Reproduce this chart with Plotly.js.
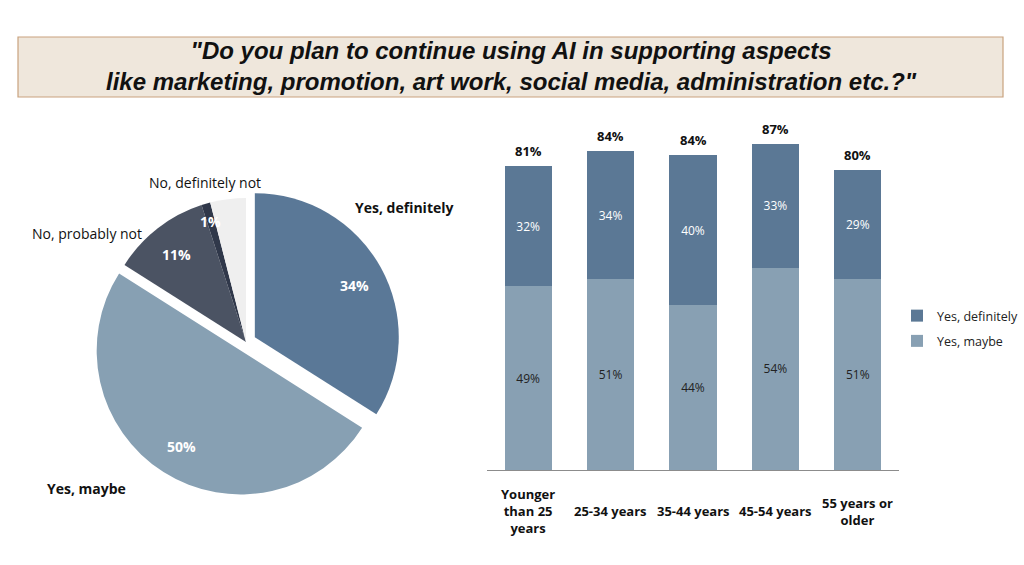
<!DOCTYPE html>
<html><head><meta charset="utf-8">
<script src="https://cdn.plot.ly/plotly-3.0.1.min.js"></script>
<style>html,body{margin:0;padding:0;background:#fff}</style>
</head><body><div id="chart" style="width:1024px;height:565px"></div>
<script>
// ---- data ----
const titleLines = ['"Do you plan to continue using AI in supporting aspects', 'like marketing, promotion, art work, social media, administration etc.?"'];
const pieLabels = ['Yes, definitely', 'Yes, maybe', 'No, probably not', 'No, definitely not', 'Other'];
const pieValues = [34, 50, 11, 1, 4];
const pieShown = ['34%', '50%', '11%', '1%', ''];
const ageGroups = ['Younger<br>than 25<br>years', '25-34 years', '35-44 years', '45-54 years', '55 years or<br>older'];
const yesMaybe = [49, 51, 44, 54, 51];
const yesDefinitely = [32, 34, 40, 33, 29];
const totals = [81, 84, 84, 87, 80];

const W = 1024, H = 565;
const px = x => x / W, py = y => 1 - y / H;
const FONT = 'Open Sans, Noto Sans, sans-serif';

const traces = [
  {
    type: 'pie', labels: pieLabels, values: pieValues, sort: false, direction: 'clockwise', rotation: 0,
    pull: [0.07, 0.07, 0, 0, 0],
    marker: {colors: ['#5a7897', '#87a0b3', '#4b5363', '#30384a', '#efefef'], line: {width: 0}},
    textinfo: 'none', hoverinfo: 'label+percent', showlegend: false,
    domain: {x: [px(92), px(400)], y: [py(496), py(188)]}
  },
  {
    type: 'bar', name: 'Yes, maybe', x: ageGroups, y: yesMaybe,
    text: yesMaybe.map(v => v + '%'), textposition: 'inside', insidetextanchor: 'middle',
    textfont: {family: FONT, size: 12, color: '#222'}, marker: {color: '#88a0b3'},
    legendgroup: 'b', legendrank: 2, xaxis: 'x', yaxis: 'y', hoverinfo: 'name+y'
  },
  {
    type: 'bar', name: 'Yes, definitely', x: ageGroups, y: yesDefinitely,
    text: yesDefinitely.map(v => v + '%'), textposition: 'inside', insidetextanchor: 'middle',
    textfont: {family: FONT, size: 12, color: '#ffffff'}, marker: {color: '#5b7895'},
    legendgroup: 'a', legendrank: 1, xaxis: 'x', yaxis: 'y', hoverinfo: 'name+y'
  }
];

const annotations = [];
// title
annotations.push({
  xref: 'paper', yref: 'paper', x: px(511), y: py(66), xanchor: 'center', yanchor: 'middle',
  text: titleLines.join('<br>'), showarrow: false,
  font: {family: 'Liberation Sans, sans-serif', size: 24, color: '#111', weight: 'bold', style: 'italic'}
});
// pie outside labels
const pieLabelPos = [[404, 207, true], [86, 489, true], [87, 233, false], [205, 183, false]];
pieLabelPos.forEach((p, i) => annotations.push({
  xref: 'paper', yref: 'paper', x: px(p[0]), y: py(p[1]), xanchor: 'center', yanchor: 'middle',
  text: p[2] ? '<b>' + pieLabels[i] + '</b>' : pieLabels[i], showarrow: false,
  font: {family: FONT, size: 14, color: '#111'}
}));
// pie inside percentages
const piePctPos = [[354, 285], [181, 446], [176, 254], [210, 221]];
piePctPos.forEach((p, i) => annotations.push({
  xref: 'paper', yref: 'paper', x: px(p[0]), y: py(p[1]), xanchor: 'center', yanchor: 'middle',
  text: '<b>' + pieShown[i] + '</b>', showarrow: false,
  font: {family: FONT, size: 14, color: '#ffffff'}
}));
// bar totals
ageGroups.forEach((g, i) => annotations.push({
  xref: 'x', yref: 'y', x: g, y: yesMaybe[i] + yesDefinitely[i], yanchor: 'bottom', yshift: 4,
  text: '<b>' + totals[i] + '%</b>', showarrow: false,
  font: {family: FONT, size: 13, color: '#111'}
}));
// category labels
ageGroups.forEach((g, i) => annotations.push({
  xref: 'x', yref: 'paper', x: g, y: py(511), yanchor: 'middle',
  text: '<b>' + g + '</b>', showarrow: false,
  font: {family: FONT, size: 13, color: '#111'}
}));

const layout = {
  width: W, height: H, margin: {l: 0, r: 0, t: 0, b: 0},
  paper_bgcolor: '#ffffff', plot_bgcolor: 'rgba(0,0,0,0)',
  font: {family: FONT, color: '#222'},
  barmode: 'stack', bargap: 0.425,
  xaxis: {domain: [px(487), px(899)], showticklabels: false, ticks: '', showgrid: false, zeroline: false,
          showline: true, linecolor: '#8c8c8c', linewidth: 1, type: 'category', fixedrange: true},
  yaxis: {domain: [py(470), py(95)], range: [0, 100], visible: false, fixedrange: true},
  showlegend: true,
  legend: {x: px(897), y: py(301), xanchor: 'left', yanchor: 'top', font: {family: FONT, size: 12.5, color: '#222'},
           traceorder: 'grouped', tracegroupgap: 6, bgcolor: 'rgba(0,0,0,0)'},
  shapes: [{type: 'rect', xref: 'paper', yref: 'paper', x0: px(18), x1: px(1003), y0: py(97), y1: py(37),
            fillcolor: '#efe7dc', line: {color: '#c9a27e', width: 1.2}, layer: 'below'}],
  annotations: annotations
};

Plotly.newPlot('chart', traces, layout, {displayModeBar: false, staticPlot: true});
</script></body></html>
